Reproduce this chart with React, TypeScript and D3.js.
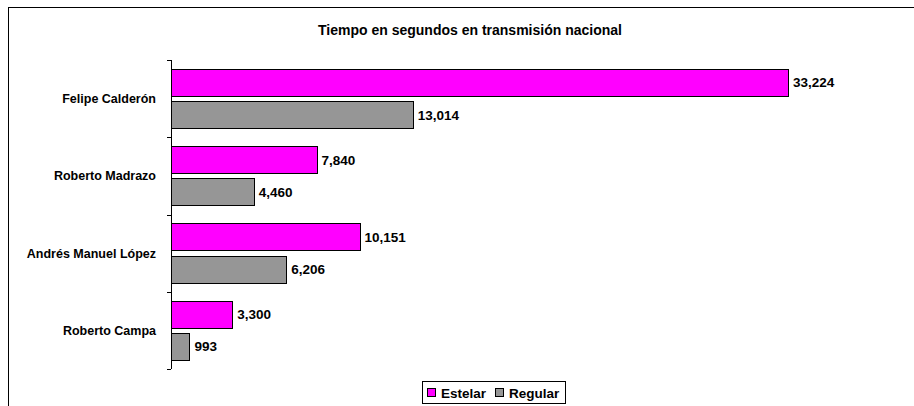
import React, { useRef, useEffect } from 'react';
import * as d3 from 'd3';

const candidates = ['Felipe Calderón', 'Roberto Madrazo', 'Andrés Manuel López', 'Roberto Campa'];
const estelar = [33224, 7840, 10151, 3300];
const regular = [13014, 4460, 6206, 993];
const seriesNames = ['Estelar', 'Regular'];
const seriesColors = ['#ff00ff', '#969696'];

function App() {
    const ref = useRef<SVGSVGElement>(null);

    useEffect(() => {
        const svg = d3.select(ref.current);
        svg.selectAll('*').remove();
        const font = 'Liberation Sans, Arial, sans-serif';

        // outer chart frame
        svg.append('rect')
            .attr('x', 8.5).attr('y', 7.5)
            .attr('width', 920).attr('height', 420)
            .attr('fill', '#fff').attr('stroke', '#000');

        svg.append('text')
            .attr('x', 470).attr('y', 35)
            .attr('text-anchor', 'middle')
            .attr('font-family', font).attr('font-weight', 'bold').attr('font-size', 14)
            .text('Tiempo en segundos en transmisión nacional');

        const x = d3.scaleLinear().domain([0, 35000]).range([171, 821]);
        const y = d3.scaleBand().domain(candidates).range([60, 369]);
        const inner = d3.scaleBand().domain(seriesNames)
            .range([0, y.bandwidth()]).paddingOuter(0.28).paddingInner(0.156);

        const rows = candidates.map((c, i) => ({ c, vals: [estelar[i], regular[i]] }));

        const g = svg.append('g');
        rows.forEach(row => {
            row.vals.forEach((v, j) => {
                const by = (y(row.c) ?? 0) + (inner(seriesNames[j]) ?? 0);
                g.append('rect')
                    .attr('x', x(0) + 0.5).attr('y', Math.round(by) + 0.5)
                    .attr('width', Math.round(x(v) - x(0)))
                    .attr('height', Math.round(inner.bandwidth()))
                    .attr('fill', seriesColors[j])
                    .attr('stroke', '#000').attr('stroke-width', 1);
                g.append('text')
                    .attr('x', x(v) + 5)
                    .attr('y', by + inner.bandwidth() / 2)
                    .attr('dy', '0.36em')
                    .attr('font-family', font).attr('font-weight', 'bold').attr('font-size', 13.5)
                    .text(d3.format(',')(v));
            });
        });

        // category labels
        svg.selectAll('.cat').data(candidates).enter().append('text')
            .attr('x', 156)
            .attr('y', d => (y(d) ?? 0) + y.bandwidth() / 2)
            .attr('dy', '0.35em')
            .attr('text-anchor', 'end')
            .attr('font-family', font).attr('font-weight', 'bold').attr('font-size', 12.5)
            .text(d => d);

        // axis line and band boundary ticks
        const [r0, r1] = y.range();
        svg.append('line').attr('x1', 171.5).attr('x2', 171.5).attr('y1', r0).attr('y2', r1).attr('stroke', '#000');
        const edges = candidates.map(c => y(c) ?? 0).concat([r1]);
        svg.selectAll('.edge').data(edges).enter().append('line')
            .attr('x1', 167).attr('x2', 171)
            .attr('y1', d => Math.round(d) + 0.5).attr('y2', d => Math.round(d) + 0.5)
            .attr('stroke', '#000');

        // legend
        const lg = svg.append('g');
        lg.append('rect').attr('x', 422.5).attr('y', 381.5).attr('width', 143).attr('height', 22)
            .attr('fill', '#fff').attr('stroke', '#000');
        const legendX = [427, 495];
        seriesNames.forEach((s, i) => {
            lg.append('rect').attr('x', legendX[i] + 0.5).attr('y', 388.5).attr('width', 8).attr('height', 8)
                .attr('fill', seriesColors[i]).attr('stroke', '#000');
            lg.append('text').attr('x', legendX[i] + 14).attr('y', 397.5)
                .attr('font-family', font).attr('font-weight', 'bold').attr('font-size', 13.5)
                .text(s);
        });
    }, []);

    return <svg ref={ref} width={914} height={406} style={{ position: 'absolute', left: 0, top: 0 }} />;
}

export default App;
